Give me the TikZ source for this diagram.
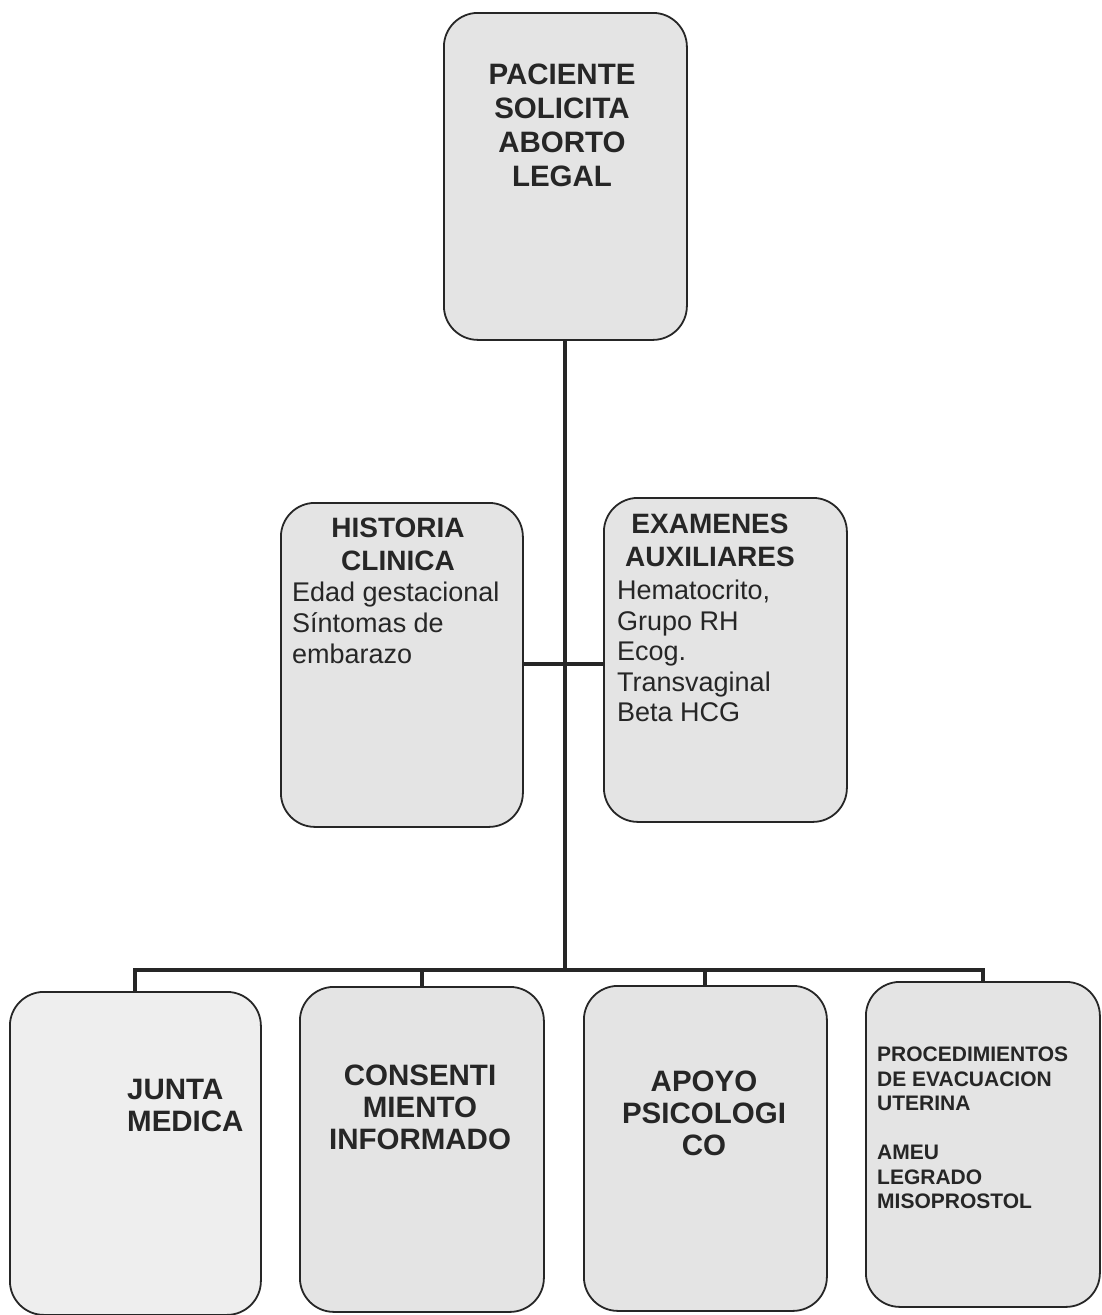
\documentclass[tikz,border=0pt]{standalone}
\usepackage{fontspec}
\setmainfont{Liberation Sans}
\begin{document}
\begin{tikzpicture}[x=1pt,y=-1pt,
  boxst/.style={draw=black!85, line width=1.8pt, rounded corners=34pt, fill=boxgray, anchor=north west, inner sep=0pt},
  conn/.style={draw=black!85, line width=4pt, line cap=rect},
  ttl/.style={inner sep=0pt, text=black!85, align=center, font=\fontsize{29.5}{34}\selectfont\bfseries},
  bttl/.style={inner sep=0pt, text=black!85, font=\fontsize{29.5}{32}\selectfont\bfseries},
  body/.style={inner sep=0pt, text=black!85, align=left, anchor=north west}
]
\definecolor{boxgray}{HTML}{E4E4E4}
\definecolor{lightgray2}{HTML}{EEEEEE}
\useasboundingbox (0,0) rectangle (1101,1315);
\fill[white] (0,0) rectangle (1101,1315);

% boxes
\node[boxst, minimum width=243pt, minimum height=327pt] (top) at (443,12) {};
\node[boxst, minimum width=242pt, minimum height=324pt] (hc) at (280,502) {};
\node[boxst, minimum width=243pt, minimum height=324pt] (ea) at (603,497) {};
\node[boxst, fill=lightgray2, minimum width=251pt, minimum height=323pt] (jm) at (9,991) {};
\node[boxst, minimum width=244pt, minimum height=325pt] (ci) at (299,986) {};
\node[boxst, minimum width=243pt, minimum height=325pt] (ap) at (583,985) {};
\node[boxst, minimum width=234pt, minimum height=325pt] (pe) at (865,981) {};

% connector points
\coordinate (hub) at (563,970);
\coordinate (mid) at (563,664);

% connectors
\draw[conn] (top.south) -- (top.south |- hub);
\draw[conn] (hc.east |- mid) -- (ea.west |- mid);
\draw[conn] (jm.north) |- (hub) -| (pe.north);
\draw[conn] (ci.north) -- (ci.north |- hub);
\draw[conn] (ap.north) -- (ap.north |- hub);

% texts
\node[ttl, anchor=north] (topt) at (562,64) {PACIENTE\\SOLICITA\\ABORTO\\LEGAL};

\node[ttl, anchor=north, font=\fontsize{28}{33}\selectfont\bfseries] (hct) at (398,518) {HISTORIA\\CLINICA};
\node[body, font=\fontsize{27}{31}\selectfont] (hcb) at (292,582) {Edad gestacional\\Síntomas de\\embarazo};

\node[ttl, anchor=north, font=\fontsize{28}{33}\selectfont\bfseries] (eat) at (710,514) {EXAMENES\\AUXILIARES};
\node[body, font=\fontsize{27}{30.5}\selectfont] (eab) at (617,580) {Hematocrito,\\Grupo RH\\Ecog.\\Transvaginal\\Beta HCG};

\node[bttl, align=left, anchor=north west] (jmt) at (127,1079) {JUNTA\\MEDICA};
\node[bttl, align=center, anchor=north] (cit) at (420,1065) {CONSENTI\\MIENTO\\INFORMADO};
\node[bttl, align=center, anchor=north] (apt) at (704,1071) {APOYO\\PSICOLOGI\\CO};
\node[body, font=\fontsize{21}{24.5}\selectfont\bfseries] (pet) at (877,1047) {PROCEDIMIENTOS\\DE EVACUACION\\UTERINA\\[24.5pt]AMEU\\LEGRADO\\MISOPROSTOL};
\end{tikzpicture}
\end{document}
